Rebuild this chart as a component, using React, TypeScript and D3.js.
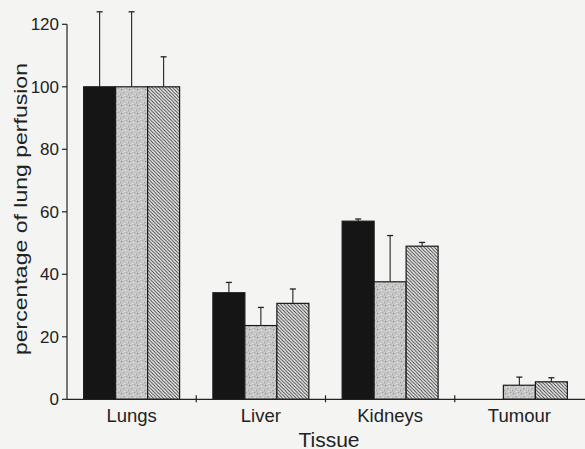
import React from 'react';
import * as d3 from 'd3';

const tissues = ['Lungs', 'Liver', 'Kidneys', 'Tumour'];
const series = ['a', 'b', 'c'];
// mean values, % of lung perfusion (rows = tissue, cols = series)
const seriesA = [100, 34.1, 57, 0];
const seriesB = [100, 23.6, 37.6, 4.5];
const seriesC = [100, 30.7, 49, 5.6];
const errA = [24, 3.3, 0.7, 0];
const errB = [24, 5.8, 14.8, 2.6];
const errC = [9.6, 4.6, 1.2, 1.3];
const yTicks = [0, 20, 40, 60, 80, 100, 120];

const W = 585;
const H = 449;
const fills = ['#151515', 'url(#stipple)', 'url(#hatch)'];

// speckle positions for the stippled texture (style only)
const specks = [
  [1, 1, '#8a8a8a'], [5, 2, '#e6e6e6'], [3, 4, '#9a9a9a'], [7, 5, '#dcdcdc'],
  [0, 6, '#a0a0a0'], [4, 7, '#ececec'], [6, 0, '#a8a8a8'], [2, 3, '#e0e0e0'],
];

export default function App() {
  const x0 = d3.scaleBand().domain(tissues).range([67, 584]).paddingInner(0).paddingOuter(0);
  const x1 = d3.scaleBand().domain(series).range([0, x0.bandwidth()]).paddingInner(0).paddingOuter(0.52);
  const y = d3.scaleLinear().domain([0, 120]).range([399.3, 24.3]);

  const vals = [seriesA, seriesB, seriesC];
  const errs = [errA, errB, errC];

  const bars: any[] = [];
  tissues.forEach((t, i) => {
    series.forEach((s, j) => {
      const v = vals[j][i];
      if (v <= 0) return;
      const bx = (x0(t) as number) + (x1(s) as number);
      const bw = x1.bandwidth();
      const cx = bx + bw / 2;
      const top = y(v + errs[j][i]);
      bars.push(
        <g key={t + s}>
          <line x1={cx} x2={cx} y1={y(v)} y2={top} stroke="#222" strokeWidth={1.1} />
          <line x1={cx - 3} x2={cx + 3} y1={top} y2={top} stroke="#222" strokeWidth={1.3} />
          <rect x={bx} y={y(v)} width={bw} height={y(0) - y(v)} fill={fills[j]} stroke="#1a1a1a" strokeWidth={1.2} />
        </g>
      );
    });
  });

  const font = 'Liberation Sans, Arial, Helvetica, sans-serif';

  return (
    <svg width={W} height={H} style={{ position: 'absolute', left: 0, top: 0 }} fontFamily={font}>
      <defs>
        <pattern id="stipple" width={8} height={8} patternUnits="userSpaceOnUse">
          <rect width={8} height={8} fill="#c6c6c6" />
          {specks.map((p, k) => (
            <rect key={k} x={p[0] as number} y={p[1] as number} width={1.2} height={1.2} fill={p[2] as string} />
          ))}
        </pattern>
        <pattern id="hatch" width={3.4} height={3.4} patternUnits="userSpaceOnUse">
          <rect width={3.4} height={3.4} fill="#f2f2f2" />
          <path d="M-1,-1 L4.4,4.4 M2.4,-1 L4.4,1 M-1,2.4 L1,4.4" stroke="#333" strokeWidth={0.9} />
        </pattern>
      </defs>
      <rect width={W} height={H} fill="#f4f4f2" />

      {bars}

      {/* y axis */}
      <line x1={67} x2={67} y1={y(0)} y2={y(120)} stroke="#222" strokeWidth={1.2} />
      {yTicks.map((t) => (
        <g key={t}>
          <line x1={62} x2={67} y1={y(t)} y2={y(t)} stroke="#222" strokeWidth={1.2} />
          <text x={59} y={y(t) + 6} textAnchor="end" fontSize={17} fill="#222">{t}</text>
        </g>
      ))}

      {/* x axis */}
      <line x1={67} x2={W} y1={y(0)} y2={y(0)} stroke="#222" strokeWidth={1.2} />
      {tissues.slice(1).map((t) => (
        <line key={t} x1={x0(t) as number} x2={x0(t) as number} y1={y(0) - 4} y2={y(0) + 3} stroke="#222" strokeWidth={1.2} />
      ))}
      {tissues.map((t) => (
        <text key={t} x={(x0(t) as number) + x0.bandwidth() / 2} y={421.5} textAnchor="middle" fontSize={18.5} fill="#222">{t}</text>
      ))}

      <text x={329} y={446.5} textAnchor="middle" fontSize={21} fill="#222">Tissue</text>
      <text
        transform="translate(27,209) rotate(-90)"
        textAnchor="middle"
        fontSize={18.5}
        fill="#222"
        textLength={292}
        lengthAdjust="spacingAndGlyphs"
      >percentage of lung perfusion</text>
    </svg>
  );
}
